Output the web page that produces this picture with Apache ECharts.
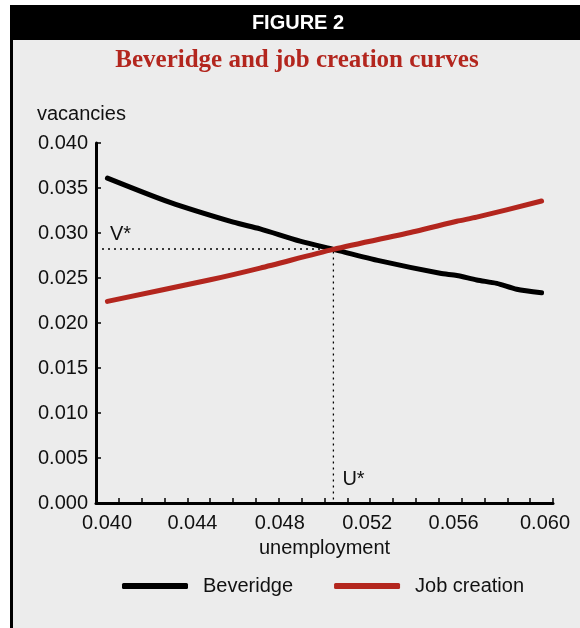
<!DOCTYPE html>
<html>
<head>
<meta charset="utf-8">
<script src="https://cdn.jsdelivr.net/npm/echarts@6/dist/echarts.min.js"></script>
<style>
html,body{margin:0;padding:0;background:#fff;}
#c{width:580px;height:628px;}
</style>
</head>
<body>
<div id="c"></div>
<script>
// ---- data ----
const beveridgeU = [0.0405, 0.04324, 0.04601, 0.04718, 0.04893, 0.05039, 0.05243, 0.05506, 0.05579, 0.05666, 0.05754, 0.05841, 0.0595];
const beveridgeV = [0.0361, 0.0334, 0.0312, 0.03046, 0.02910, 0.02818, 0.02690, 0.02552, 0.02528, 0.02478, 0.02440, 0.02375, 0.02335];
const jobU = [0.0405, 0.04500, 0.04718, 0.05039, 0.05400, 0.05579, 0.05666, 0.0595];
const jobV = [0.02240, 0.02480, 0.02610, 0.02818, 0.03020, 0.03130, 0.03176, 0.03355];
const Ustar = 0.05039;
const Vstar = 0.02822;
const xTicks = [0.040, 0.044, 0.048, 0.052, 0.056, 0.060];
const yTicks = [0.000, 0.005, 0.010, 0.015, 0.020, 0.025, 0.030, 0.035, 0.040];
const seriesNames = ['Beveridge', 'Job creation'];
const figureLabel = 'FIGURE 2';
const titleText = 'Beveridge and job creation curves';
const yName = 'vacancies';
const xName = 'unemployment';

const RED = '#b3261e';
const FONT = 'Liberation Sans, Arial, Helvetica, sans-serif';
const zip = (a, b) => a.map((v, i) => [v, b[i]]);
// slight horizontal shifts of x tick labels as in the reference typesetting
const xLabelShift = {'0.040': 11, '0.044': 5, '0.048': 1, '0.052': -3, '0.056': -8, '0.060': -8};
const rich = {};
Object.keys(xLabelShift).forEach((k, i) => {
  const s = xLabelShift[k];
  rich['l' + i] = {fontFamily: FONT, fontSize: 20, color: '#111',
    padding: s >= 0 ? [0, 0, 0, 2 * s] : [0, -2 * s, 0, 0]};
});

const chart = echarts.init(document.getElementById('c'), null, {renderer: 'canvas'});
chart.setOption({
  backgroundColor: '#ffffff',
  animation: false,
  graphic: [
    {type: 'rect', z: -10, shape: {x: 10, y: 5, width: 570, height: 623}, style: {fill: '#ececec'}},
    {type: 'rect', z: -9, shape: {x: 10, y: 5, width: 570, height: 35}, style: {fill: '#000'}},
    {type: 'rect', z: -9, shape: {x: 10, y: 40, width: 3, height: 588}, style: {fill: '#000'}},
    {type: 'text', x: 298, y: 23, style: {text: figureLabel, fill: '#fff', font: 'bold 20px ' + FONT, align: 'center', verticalAlign: 'middle'}},
    {type: 'text', x: 297, y: 61, style: {text: titleText, fill: RED, font: 'bold 25px "Liberation Serif", "Times New Roman", serif', align: 'center', verticalAlign: 'middle'}},
    {type: 'text', x: 37, y: 114, style: {text: yName, fill: '#111', font: '20px ' + FONT, align: 'left', verticalAlign: 'middle'}}
  ],
  grid: {left: 96, top: 143, right: 27, bottom: 125, containLabel: false},
  xAxis: {
    type: 'value', min: 0.040, max: 0.060, interval: 0.004,
    name: xName, nameLocation: 'middle', nameGap: 35,
    nameTextStyle: {fontFamily: FONT, fontSize: 20, color: '#111'},
    axisLine: {show: true, lineStyle: {color: '#000', width: 3}},
    axisTick: {show: true, inside: true, length: 5, lineStyle: {color: '#000', width: 1.5}},
    minorTick: {show: true, splitNumber: 4, length: 5, lineStyle: {color: '#000', width: 1.5}},
    splitLine: {show: false},
    axisLabel: {
      margin: 10, fontFamily: FONT, fontSize: 20, color: '#111', rich: rich,
      formatter: v => {
        const t = v.toFixed(3);
        const i = Object.keys(xLabelShift).indexOf(t);
        return i >= 0 ? '{l' + i + '|' + t + '}' : t;
      }
    }
  },
  yAxis: {
    type: 'value', min: 0, max: 0.040, interval: 0.005,
    axisLine: {show: true, lineStyle: {color: '#000', width: 3}},
    axisTick: {show: true, inside: true, length: 5, lineStyle: {color: '#000', width: 1.5}},
    splitLine: {show: false},
    axisLabel: {margin: 8, fontFamily: FONT, fontSize: 20, color: '#111', formatter: v => v.toFixed(3)}
  },
  legend: {
    data: seriesNames,
    left: 122, top: 576, padding: 0,
    icon: 'roundRect',
    itemWidth: 66, itemHeight: 6, itemGap: 41,
    textStyle: {fontFamily: FONT, fontSize: 20, color: '#111', padding: [0, 0, 0, 10]}
  },
  series: [
    {
      name: 'guides', type: 'line', silent: true, symbol: 'none',
      data: [[0.040, Vstar], [Ustar, Vstar], [Ustar, 0]],
      lineStyle: {color: '#000', width: 1.3, type: [2, 4]}, z: 1
    },
    {
      name: seriesNames[0], type: 'line', symbol: 'none', smooth: 0.25,
      data: zip(beveridgeU, beveridgeV),
      color: '#000', lineStyle: {color: '#000', width: 5, cap: 'round', join: 'round'}, z: 3
    },
    {
      name: seriesNames[1], type: 'line', symbol: 'none', smooth: 0.25,
      data: zip(jobU, jobV),
      color: RED, lineStyle: {color: RED, width: 5, cap: 'round', join: 'round'}, z: 4
    },
    {
      name: 'starLabels', type: 'scatter', silent: true, symbolSize: 0,
      itemStyle: {color: '#111'},
      data: [
        {value: [0.04061, Vstar], label: {formatter: 'V*', position: [0, -25]}},
        {value: [Ustar, 0], label: {formatter: 'U*', position: [9, -34]}}
      ],
      label: {show: true, align: 'left', verticalAlign: 'top', fontFamily: FONT, fontSize: 20,
        color: '#111', textBorderWidth: 0, opacity: 1}
    }
  ]
});
</script>
</body>
</html>
